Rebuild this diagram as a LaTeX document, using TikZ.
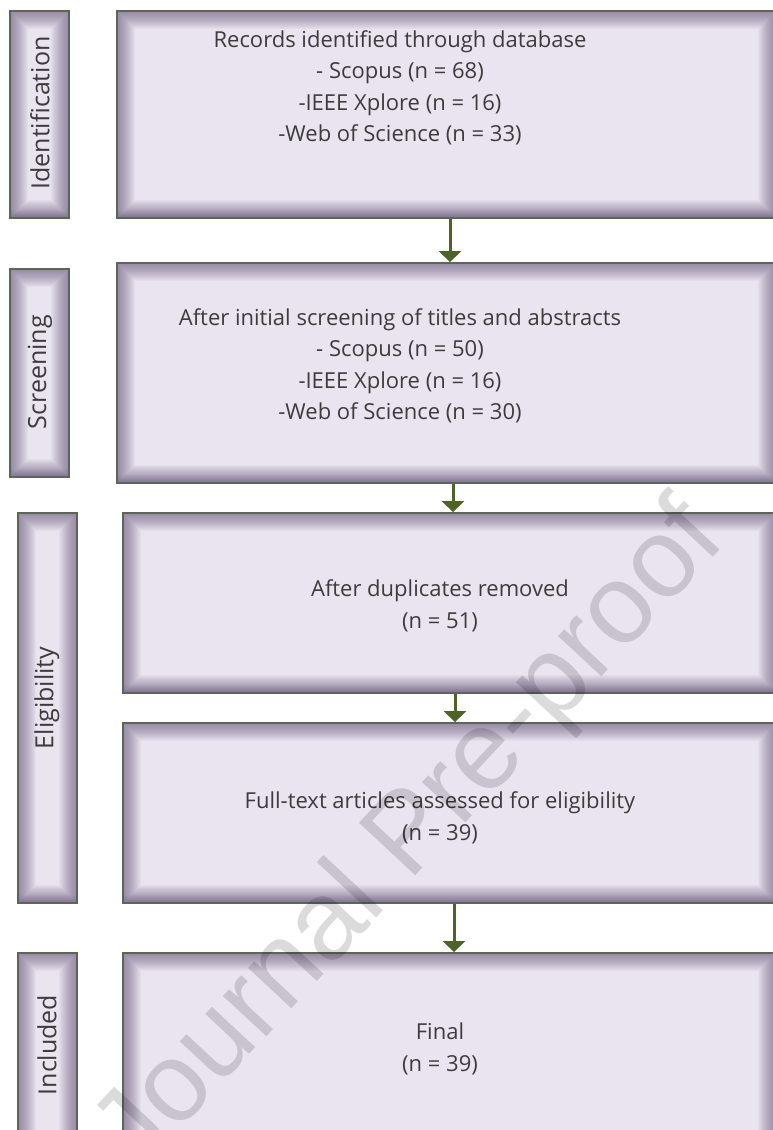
\documentclass[tikz,border=0pt]{standalone}
\usepackage{fontspec}
\setmainfont{Open Sans}
\newfontfamily\markfont{Liberation Sans}
\usetikzlibrary{arrows.meta}
\definecolor{panelfill}{HTML}{E9E4F0}
\definecolor{panelshade}{HTML}{5E4F72}
\definecolor{panelline}{HTML}{5C6658}
\definecolor{flowgreen}{HTML}{4F6228}
\definecolor{inktext}{HTML}{3C3C3C}
\tikzset{
  panel/.style={fill=panelfill, draw=panelline, line width=1.8pt, inner sep=0pt,
    path picture={
      % soft inner shadow, a little heavier along the bottom edge
      \foreach \k [evaluate=\k as \w using 2*\k] in {1,...,18}{
        \draw[panelshade, line width=\w pt, opacity=0.042]
          (path picture bounding box.south west) rectangle (path picture bounding box.north east);
      }
      \foreach \k [evaluate=\k as \w using 2*\k] in {1,...,8}{
        \draw[panelshade, line width=\w pt, opacity=0.04]
          (path picture bounding box.south west) -- (path picture bounding box.south east);
      }
    }},
  body/.style={text=inktext, font=\fontsize{22}{31.5}\selectfont, align=center, inner sep=0pt},
  stage/.style={text=inktext, font=\fontsize{25}{28}\selectfont, rotate=90, inner sep=0pt},
  flow/.style={draw=flowgreen, line width=3pt, -{Triangle[width=22pt,length=11pt]}},
}
\begin{document}
\begin{tikzpicture}[x=1pt, y=-1pt]
  \useasboundingbox (0,0) rectangle (773,1130);
  \clip (0,0) rectangle (773,1130);

  % stage tabs on the left
  \node[panel, minimum width=59pt, minimum height=207pt] (s1) at (39.5,114.5) {};
  \node[panel, minimum width=59pt, minimum height=208pt] (s2) at (39.5,373) {};
  \node[panel, minimum width=59pt, minimum height=390pt] (s3) at (47.5,708) {};
  \node[panel, minimum width=59pt, minimum height=200pt] (s4) at (47.5,1053) {};

  % process boxes
  \node[panel, minimum width=659pt, minimum height=207pt] (b1) at (446.5,114.5) {};
  \node[panel, minimum width=659pt, minimum height=220pt] (b2) at (446.5,373) {};
  \node[panel, minimum width=653pt, minimum height=180pt] (b3) at (449.5,603) {};
  \node[panel, minimum width=653pt, minimum height=180pt] (b4) at (449.5,813) {};
  \node[panel, minimum width=653pt, minimum height=200pt] (b5) at (449.5,1053) {};

  % stage names
  \node[stage] (l1) at (40,113) {Identification};
  \node[stage] (l2) at (40,372) {Screening};
  \node[stage] (l3) at (47,698) {Eligibility};
  \node[stage] (l4) at (47,1045) {Included};

  % box contents
  \node[body] (t1) at (400,88) {Records identified through database\\- Scopus (n = 68)\\-IEEE Xplore (n = 16)\\-Web of Science (n = 33)};
  \node[body] (t2) at (400,366) {After initial screening of titles and abstracts\\- Scopus (n = 50)\\-IEEE Xplore (n = 16)\\-Web of Science (n = 30)};
  \node[body] (t3) at (440,606) {After duplicates removed\\(n = 51)};
  \node[body] (t4) at (440,818) {Full-text articles assessed for eligibility\\(n = 39)};
  \node[body] (t5) at (440,1049) {Final\\(n = 39)};

  % flow arrows
  \draw[flow] ([xshift=3.5pt]b1.south) -- ([xshift=3.5pt]b2.north);
  \draw[flow] ([xshift=6.5pt]b2.south) -- ([xshift=3.5pt]b3.north);
  \draw[flow] ([xshift=5.5pt]b3.south) -- ([xshift=5.5pt]b4.north);
  \draw[flow] ([xshift=4.5pt]b4.south) -- ([xshift=4.5pt]b5.north);

  % watermark
  \node[text=black, opacity=0.14, rotate=47, inner sep=0pt, font=\markfont\fontsize{112}{112}\selectfont] (wm) at (412,838) {Journal Pre-proof};
\end{tikzpicture}
\end{document}
